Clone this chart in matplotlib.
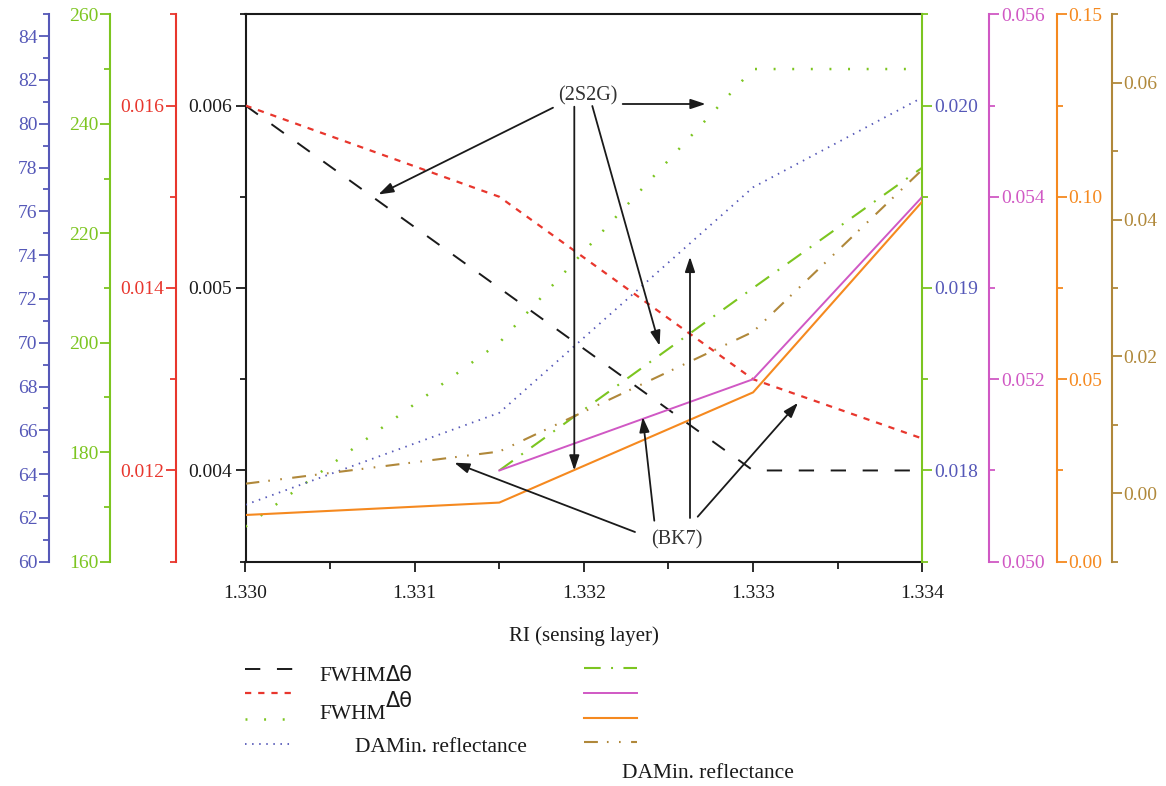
import matplotlib
matplotlib.use('Agg')
import matplotlib.pyplot as plt
import numpy as np
from matplotlib.ticker import MultipleLocator, FormatStrFormatter
from matplotlib.lines import Line2D

plt.rcParams['font.family'] = ['Liberation Serif', 'DejaVu Serif']
plt.rcParams['lines.scale_dashes'] = False

# ---------------- data ----------------
ri = [1.330, 1.3315, 1.333, 1.334]
# 2S2G
fwhm_dtheta = [0.0060, 0.0050, 0.0040, 0.0040]          # black, left axis
fwhm_red = [0.0160, 0.0150, 0.0130, 0.01235]            # red axis
fwhm_green = [166.4, 200.0, 250.0, 250.0]               # green left axis
damin_blue = [62.6, 66.8, 77.1, 81.2]                   # blue left axis
# BK7
bk7_green = [np.nan, 0.0180, 0.0190, 0.01966]          # right green axis
bk7_magenta = [np.nan, 0.0510, 0.0520, 0.0540]         # magenta axis
bk7_orange = [0.0128, 0.0162, 0.0464, 0.0987]          # orange axis
bk7_brown = [0.0014, 0.0061, 0.0236, 0.0473]           # brown axis

x_ticks_label = 'RI (sensing layer)'

BLUE = '#5558b8'
GREEN = '#7cc520'
RED = '#e8362d'
MAG = '#d058c4'
ORANGE = '#f5891f'
BROWN = '#b0883a'
BLACK = '#1a1a1a'

W, H = 1166, 786
fig = plt.figure(figsize=(W / 100, H / 100), dpi=100)
L, R, T, B = 245.5, 922.3, 14.3, 561.7
ax = fig.add_axes([L / W, 1 - B / H, (R - L) / W, (B - T) / H])

TICK_FS = 14


def setup_axis(a, side, pos, color, labelcolor, lim, major, minor, fmt):
    for s in a.spines.values():
        s.set_visible(False)
    sp = a.spines[side]
    sp.set_visible(True)
    sp.set_position(('axes', pos))
    sp.set_color(color)
    sp.set_linewidth(1.5)
    a.yaxis.set_ticks_position(side)
    a.yaxis.set_label_position(side)
    a.set_ylim(*lim)
    a.yaxis.set_major_locator(MultipleLocator(major))
    a.yaxis.set_minor_locator(MultipleLocator(minor))
    a.yaxis.set_major_formatter(FormatStrFormatter(fmt))
    a.tick_params(axis='y', which='both', direction='out', color=color,
                  labelcolor=labelcolor, width=1.3, labelsize=TICK_FS, pad=1.5)
    a.tick_params(axis='y', which='major', length=7)
    a.tick_params(axis='y', which='minor', length=4)


# main axis (black)
ax.set_xlim(1.330, 1.334)
ax.set_ylim(0.0035, 0.0065)
ax.spines['right'].set_visible(False)
for s in ['left', 'top', 'bottom']:
    ax.spines[s].set_color(BLACK)
    ax.spines[s].set_linewidth(1.5)
ax.xaxis.set_major_locator(MultipleLocator(0.001))
ax.xaxis.set_minor_locator(MultipleLocator(0.0005))
ax.xaxis.set_major_formatter(FormatStrFormatter('%.3f'))
ax.yaxis.set_major_locator(MultipleLocator(0.001))
ax.yaxis.set_minor_locator(MultipleLocator(0.0005))
ax.yaxis.set_major_formatter(FormatStrFormatter('%.3f'))
ax.tick_params(which='both', direction='out', color=BLACK, labelcolor=BLACK,
               width=1.3, labelsize=TICK_FS, top=False, right=False)
ax.tick_params(axis='y', which='major', length=7, pad=3)
ax.tick_params(axis='y', which='minor', length=4)
ax.tick_params(axis='x', which='major', length=7, pad=10)
ax.tick_params(axis='x', which='minor', length=5)

ax_red = ax.twinx()
setup_axis(ax_red, 'left', -0.1027, RED, RED, (0.011, 0.017), 0.002, 0.001, '%.3f')
ax_green = ax.twinx()
setup_axis(ax_green, 'left', -0.2002, GREEN, GREEN, (160, 260), 20, 10, '%d')
ax_blue = ax.twinx()
setup_axis(ax_blue, 'left', -0.2899, BLUE, BLUE, (60, 85), 2, 1, '%d')
ax_rg = ax.twinx()
setup_axis(ax_rg, 'right', 1.0, GREEN, BLUE, (0.0175, 0.0205), 0.001, 0.0005, '%.3f')
ax_mag = ax.twinx()
setup_axis(ax_mag, 'right', 1.099, MAG, MAG, (0.050, 0.056), 0.002, 0.001, '%.3f')
ax_or = ax.twinx()
setup_axis(ax_or, 'right', 1.1986, ORANGE, ORANGE, (0.0, 0.15), 0.05, 0.025, '%.2f')
ax_br = ax.twinx()
setup_axis(ax_br, 'right', 1.2799, BROWN, BROWN, (-0.01, 0.07), 0.02, 0.01, '%.2f')

styles = {
    'black': dict(color=BLACK, lw=1.4, ls=(0, (11, 12))),
    'red': dict(color=RED, lw=1.6, ls=(0, (4.5, 5))),
    'green': dict(color=GREEN, lw=1.8, ls=(0, (1.4, 12))),
    'blue': dict(color=BLUE, lw=1.3, ls=(0, (1.1, 4.0))),
    'gdash': dict(color=GREEN, lw=1.5, ls=(0, (12, 7.5, 1.4, 7.5))),
    'mag': dict(color=MAG, lw=1.4, ls='-'),
    'orange': dict(color=ORANGE, lw=1.5, ls='-'),
    'brown': dict(color=BROWN, lw=1.5, ls=(0, (10, 6.5, 1.2, 7.5, 1.2, 7.5))),
}

ax.plot(ri, fwhm_dtheta, **styles['black'])
ax_red.plot(ri, fwhm_red, **styles['red'])
ax_green.plot(ri, fwhm_green, **styles['green'])
ax_blue.plot(ri, damin_blue, **styles['blue'])
ax_rg.plot(ri, bk7_green, **styles['gdash'])
ax_mag.plot(ri, bk7_magenta, **styles['mag'])
ax_or.plot(ri, bk7_orange, **styles['orange'])
ax_br.plot(ri, bk7_brown, **styles['brown'])


def fp(x, y):
    return (x / W, 1 - y / H)


arrow_kw = dict(arrowstyle='-|>,head_length=0.6,head_width=0.2', color=BLACK,
                lw=1.3, mutation_scale=15, shrinkA=0, shrinkB=0)
arrows_2s2g = [((553, 107.7), (378.4, 194.5)),
               ((574.3, 106.7), (574.3, 470.5)),
               ((592.3, 106), (659.6, 345.8)),
               ((622.7, 104), (705.6, 104))]
arrows_bk7 = [((635, 532), (454.3, 462.7)),
              ((654.3, 520.7), (642.7, 417)),
              ((690, 518), (690, 256.8)),
              ((697.7, 516.7), (798, 402.8))]
for tail, head in arrows_2s2g + arrows_bk7:
    ax_br.annotate('', xy=fp(*head), xycoords='figure fraction',
                   xytext=fp(*tail), textcoords='figure fraction',
                   arrowprops=arrow_kw)

fig.text(*fp(588, 96), '(2S2G)', ha='center', va='center', fontsize=14.5, color='#333333')
fig.text(*fp(676.7, 540), '(BK7)', ha='center', va='center', fontsize=14.5, color='#333333')

fig.text(*fp(583.5, 636), x_ticks_label, ha='center', va='center', fontsize=15, color=BLACK)

# ---------------- legend (manual) ----------------
left_col = [('black', 669.3), ('red', 693.3), ('green', 719), ('blue', 744)]
right_col = [('gdash', 667.7), ('mag', 692.7), ('orange', 717.7), ('brown', 742.3)]
for key, y in left_col:
    fig.add_artist(Line2D([245 / W, 293 / W], [1 - y / H] * 2, transform=fig.transFigure, **styles[key]))
for key, y in right_col:
    fig.add_artist(Line2D([584.3 / W, 636.7 / W], [1 - y / H] * 2, transform=fig.transFigure, **styles[key]))

LEG_FS = 15.5
renderer = fig.canvas.get_renderer()
t1 = fig.text(*fp(319, 681), 'FWHM', ha='left', va='baseline', fontsize=LEG_FS, color=BLACK,
              family=['Liberation Serif'])
x1 = t1.get_window_extent(renderer).x1
fig.text(x1 / W, 1 - 681 / H, 'Δθ', ha='left', va='baseline', fontsize=LEG_FS - 0.5,
         color=BLACK, family=['DejaVu Sans'])
t2 = fig.text(*fp(319, 719), 'FWHM', ha='left', va='baseline', fontsize=LEG_FS, color=BLACK,
              family=['Liberation Serif'])
x2 = t2.get_window_extent(renderer).x1
fig.text(x2 / W, 1 - 707 / H, 'Δθ', ha='left', va='baseline', fontsize=LEG_FS - 0.5,
         color=BLACK, family=['DejaVu Sans'])
fig.text(*fp(355, 751.7), 'DAMin. reflectance', ha='left', va='baseline', fontsize=LEG_FS, color=BLACK)
fig.text(*fp(621.7, 778), 'DAMin. reflectance', ha='left', va='baseline', fontsize=LEG_FS, color=BLACK)

fig.savefig('out.png', dpi=100)
